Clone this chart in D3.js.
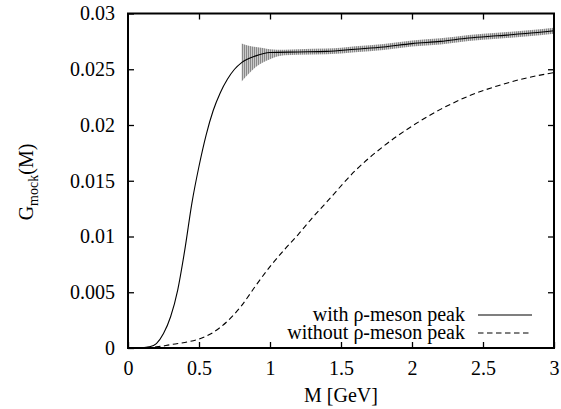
<!DOCTYPE html>
<html>
<head>
<meta charset="utf-8">
<script src="https://cdn.jsdelivr.net/npm/d3@7"></script>
<style>
  body { margin: 0; background: #fff; }
  svg { display: block; }
  svg text { font-family: "Liberation Serif", "Times New Roman", serif; }
</style>
</head>
<body>
<div id="chart"></div>
<script>
// Curve knots: M in GeV, G_mock(M)
var massWith = [0, 0.1, 0.15, 0.2, 0.25, 0.3, 0.35, 0.4, 0.45, 0.5, 0.55, 0.6, 0.65, 0.7, 0.75, 0.8, 0.9, 1.0, 1.2, 1.4, 1.6, 1.8, 2.0, 2.2, 2.4, 2.6, 2.8, 3.0];
var gWith = [0, 0.00002, 0.0001, 0.0004, 0.0013, 0.0028, 0.0052, 0.0088, 0.0130, 0.0163, 0.0191, 0.0213, 0.0229, 0.0241, 0.0250, 0.0256, 0.0262, 0.0265, 0.02655, 0.0266, 0.0268, 0.0270, 0.0273, 0.0275, 0.0278, 0.0280, 0.0282, 0.02845];

var massWithout = [0, 0.2, 0.3, 0.4, 0.5, 0.6, 0.7, 0.8, 0.9, 1.0, 1.1, 1.2, 1.3, 1.4, 1.6, 1.8, 2.0, 2.2, 2.4, 2.6, 2.8, 3.0];
var gWithout = [0, 0.0001, 0.0003, 0.0005, 0.0008, 0.0014, 0.0024, 0.0038, 0.0056, 0.0073, 0.0088, 0.0102, 0.0117, 0.0131, 0.0159, 0.0181, 0.0199, 0.0214, 0.0226, 0.0235, 0.0242, 0.0247];

// Grey error band on the rho curve
var bandMass = [0.8, 0.85, 0.9, 0.95, 1.0, 1.1, 1.2, 1.4, 1.6, 1.8, 2.0, 2.2, 2.4, 2.6, 2.8, 3.0];
var bandLow = [0.0239, 0.0246, 0.0252, 0.0256, 0.0259, 0.02625, 0.0263, 0.02635, 0.02653, 0.02673, 0.02703, 0.02723, 0.02753, 0.02773, 0.02793, 0.02818];
var bandHigh = [0.0273, 0.0271, 0.0270, 0.0269, 0.0268, 0.02675, 0.0268, 0.02685, 0.02707, 0.02727, 0.02757, 0.02777, 0.02807, 0.02827, 0.02847, 0.02872];

var xTicks = [0, 0.5, 1, 1.5, 2, 2.5, 3];
var xTickLabels = ['0', '0.5', '1', '1.5', '2', '2.5', '3'];
var yTicks = [0, 0.005, 0.01, 0.015, 0.02, 0.025, 0.03];
var yTickLabels = ['0', '0.005', '0.01', '0.015', '0.02', '0.025', '0.03'];

var seriesNames = ['with \u03c1-meson peak', 'without \u03c1-meson peak'];

var width = 561, height = 409;
var margin = { top: 13.5, right: 7, bottom: 61, left: 128 };
var fontSize = 20;
var serif = '"Liberation Serif", "Times New Roman", serif';

var svg = d3.select('#chart').append('svg').attr('width', width).attr('height', height);
var defs = svg.append('defs');
var pat = defs.append('pattern').attr('id', 'hatch').attr('patternUnits', 'userSpaceOnUse')
  .attr('width', 2).attr('height', 4);
pat.append('rect').attr('width', 2).attr('height', 4).attr('fill', '#cbcbcb');
pat.append('line').attr('x1', 0.5).attr('x2', 0.5).attr('y1', 0).attr('y2', 4)
  .attr('stroke', '#888').attr('stroke-width', 1);

var x = d3.scaleLinear().domain([0, 3]).range([margin.left, width - margin.right]);
var y = d3.scaleLinear().domain([0, 0.03]).range([height - margin.bottom, margin.top]);

var withData = massWith.map(function(m, i){ return [m, gWith[i]]; });
var withoutData = massWithout.map(function(m, i){ return [m, gWithout[i]]; });
var bandData = bandMass.map(function(m, i){ return [m, bandLow[i], bandHigh[i]]; });

//Band
var area = d3.area().curve(d3.curveMonotoneX)
  .x(function(d){ return x(d[0]); })
  .y0(function(d){ return y(d[1]); })
  .y1(function(d){ return y(d[2]); });
svg.append('path').datum(bandData).attr('d', area).attr('fill', 'url(#hatch)');

//Curves
var line = d3.line().curve(d3.curveMonotoneX)
  .x(function(d){ return x(d[0]); })
  .y(function(d){ return y(d[1]); });
svg.append('path').datum(withoutData).attr('d', line)
  .attr('fill', 'none').attr('stroke', '#000').attr('stroke-width', 1.1).attr('stroke-dasharray', '5.5,3.5');
svg.append('path').datum(withData).attr('d', line)
  .attr('fill', 'none').attr('stroke', '#000').attr('stroke-width', 1.1);

//Axes (ticks inward, mirrored)
function styleAxis(g){
  g.attr('font-family', serif).attr('font-size', fontSize);
  g.select('.domain').remove();
  g.selectAll('.tick line').attr('stroke', '#000').attr('stroke-width', 1.3);
  g.selectAll('.tick text').attr('fill', '#000');
}
svg.append('g').attr('transform', 'translate(0,' + y(0) + ')')
  .call(d3.axisBottom(x).tickValues(xTicks).tickFormat(function(d, i){ return xTickLabels[i]; })
    .tickSizeInner(-6).tickSizeOuter(0).tickPadding(13))
  .call(styleAxis);
svg.append('g').attr('transform', 'translate(0,' + y(0.03) + ')')
  .call(d3.axisTop(x).tickValues(xTicks.slice(1, -1)).tickFormat('').tickSizeInner(-6).tickSizeOuter(0))
  .call(styleAxis);
svg.append('g').attr('transform', 'translate(' + x(0) + ',0)')
  .call(d3.axisLeft(y).tickValues(yTicks).tickFormat(function(d, i){ return yTickLabels[i]; })
    .tickSizeInner(-6).tickSizeOuter(0).tickPadding(13))
  .call(styleAxis);
svg.append('g').attr('transform', 'translate(' + x(3) + ',0)')
  .call(d3.axisRight(y).tickValues(yTicks.slice(1, -1)).tickFormat('').tickSizeInner(-6).tickSizeOuter(0))
  .call(styleAxis);

//Border
svg.append('rect').attr('x', x(0)).attr('y', y(0.03))
  .attr('width', x(3) - x(0)).attr('height', y(0) - y(0.03))
  .attr('fill', 'none').attr('stroke', '#000').attr('stroke-width', 2);

//Axis titles
svg.append('text').attr('x', (x(0) + x(3)) / 2).attr('y', 402)
  .attr('text-anchor', 'middle').style('font-size', fontSize + 'px').text('M [GeV]');
var yt = svg.append('text').attr('transform', 'translate(33,182) rotate(-90)')
  .attr('text-anchor', 'middle').style('font-size', fontSize + 'px');
yt.append('tspan').text('G');
yt.append('tspan').attr('dy', 5).style('font-size', '14px').text('mock');
yt.append('tspan').attr('dy', -5).text('(M)');

//Key
var key = svg.append('g');
seriesNames.forEach(function(name, i){
  var ky = 315 + i * 18;
  key.append('text').attr('x', 465).attr('y', ky).attr('dy', '0.32em')
    .attr('text-anchor', 'end').style('font-size', fontSize + 'px').text(name);
  key.append('line').attr('x1', 478).attr('x2', 532).attr('y1', ky).attr('y2', ky)
    .attr('stroke', '#000').attr('stroke-width', 1.1)
    .attr('stroke-dasharray', i === 1 ? '5.5,3.5' : null);
});
</script>
</body>
</html>
